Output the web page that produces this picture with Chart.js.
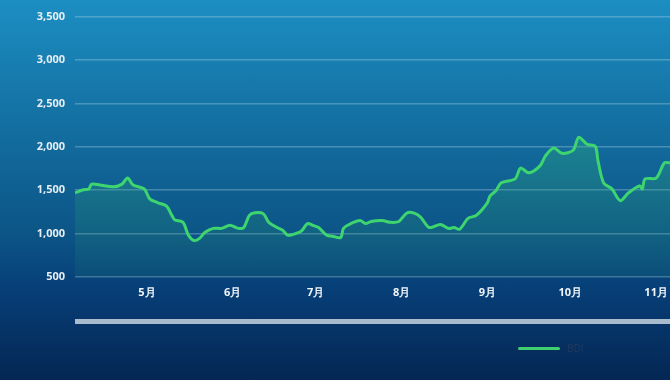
<!DOCTYPE html>
<html>
<head>
<meta charset="utf-8">
<script src="https://cdn.jsdelivr.net/npm/chart.js@4"></script>
<style>
  body { margin: 0; }
  #wrap {
    position: relative;
    width: 670px;
    height: 380px;
    background: linear-gradient(to bottom, #1c8ec2 0%, #136d9f 35%, #0c5486 62%, #07427a 74%, #06356a 85%, #042753 100%);
    overflow: hidden;
  }
  #legend {
    position: absolute;
    left: 518px;
    top: 341px;
    font: 10px "Open Sans", sans-serif;
    color: #22395e;
    display: flex;
    align-items: center;
  }
  #legend span.line {
    display: inline-block;
    width: 42px;
    height: 3px;
    background: #3ecf6e;
    margin-right: 7px;
    border-radius: 2px;
  }
</style>
</head>
<body>
<div id="wrap">
  <canvas id="chart" width="670" height="380"></canvas>
  <div id="legend"><span class="line"></span>BDI</div>
</div>
<script>
// BDI readings (date, value)
const dates = ['4/5','4/8','4/10','4/11','4/14','4/19','4/22','4/24','4/26','4/30',
  '5/2','5/5','5/8','5/10','5/11','5/14','5/16','5/18','5/20','5/22','5/25','5/28','5/31',
  '6/3','6/5','6/7','6/9','6/12','6/14','6/17','6/19','6/21','6/25','6/26','6/28','6/30',
  '7/2','7/5','7/7','7/10','7/11','7/13','7/17','7/19','7/21','7/25','7/28','7/31',
  '8/3','8/6','8/8','8/11','8/15','8/18','8/20','8/22','8/25','8/28',
  '9/1','9/2','9/4','9/6','9/11','9/13','9/16','9/20','9/22','9/25','9/28',
  '10/2','10/4','10/7','10/10','10/11','10/13','10/16','10/19','10/22','10/26','10/27','10/28',
  '11/1','11/4','11/6'];
const bdi = [1470,1505,1515,1570,1560,1540,1570,1640,1560,1515,
  1400,1355,1320,1210,1160,1130,980,920,945,1015,1060,1060,1095,
  1060,1070,1210,1240,1230,1130,1070,1040,980,1015,1035,1115,1095,
  1070,980,970,955,1060,1105,1150,1115,1140,1150,1130,1140,
  1240,1230,1185,1070,1105,1060,1070,1050,1175,1210,
  1355,1435,1490,1585,1630,1755,1700,1780,1895,1985,1925,
  1960,2110,2030,2005,1835,1585,1515,1380,1470,1550,1515,1630,
  1640,1815,1815];

const monthLabels = ['5月','6月','7月','8月','9月','10月','11月'];
const monthStarts = ['5/1','6/1','7/1','8/1','9/1','10/1','11/1'];
const yTicks = [500,1000,1500,2000,2500,3000,3500];

const monthOffset = [0,31,59,90,120,151,181,212,243,273,304,334];
function dayOfYear(s) {
  const p = s.split('/');
  return monthOffset[+p[0] - 1] + (+p[1]);
}

const points = dates.map((d, i) => ({ x: dayOfYear(d), y: bdi[i] }));
const monthDays = monthStarts.map(dayOfYear);

const ctx = document.getElementById('chart').getContext('2d');

const fillGrad = ctx.createLinearGradient(0, 130, 0, 277);
fillGrad.addColorStop(0, 'rgba(52,190,120,0.32)');
fillGrad.addColorStop(1, 'rgba(40,150,110,0.12)');

// the grey bar under the month labels
const barPlugin = {
  id: 'bottomBar',
  afterDraw(chart) {
    const c = chart.ctx;
    const a = chart.chartArea;
    c.save();
    c.fillStyle = '#a9bccd';
    c.fillRect(a.left, 319, a.right - a.left, 5);
    c.restore();
  }
};

new Chart(ctx, {
  type: 'line',
  data: {
    datasets: [{
      label: 'BDI',
      data: points,
      borderColor: '#3ed56f',
      borderWidth: 3,
      backgroundColor: fillGrad,
      fill: 'origin',
      pointRadius: 0,
      tension: 0.3
    }]
  },
  options: {
    responsive: false,
    animation: false,
    layout: { padding: { top: 14, right: 0, left: 0, bottom: 0 } },
    plugins: {
      legend: { display: false },
      tooltip: { enabled: false }
    },
    scales: {
      x: {
        type: 'linear',
        min: 95,
        max: 310,
        afterBuildTicks(scale) {
          scale.ticks = monthDays.map(v => ({ value: v }));
        },
        afterFit(scale) {
          scale.height = 103;
          scale.paddingRight = 0;
          scale.paddingLeft = 0;
        },
        grid: { display: false, drawTicks: false },
        border: { display: false },
        ticks: {
          autoSkip: false,
          maxRotation: 0,
          padding: 9,
          color: '#f2f6fa',
          font: { family: 'Open Sans', size: 11, weight: 'bold' },
          callback: (v) => {
            const i = monthDays.indexOf(v);
            return i >= 0 ? monthLabels[i] : '';
          }
        }
      },
      y: {
        min: 500,
        max: 3500,
        afterBuildTicks(scale) {
          scale.ticks = yTicks.map(v => ({ value: v }));
        },
        afterFit(scale) { scale.width = 75; },
        grid: {
          color: 'rgba(200,225,240,0.3)',
          lineWidth: 1.5,
          drawTicks: false
        },
        border: { display: false },
        ticks: {
          padding: 10,
          color: '#e6eef5',
          font: { family: 'Open Sans', size: 11, weight: 'bold' },
          callback: (v) => v.toLocaleString('en-US')
        }
      }
    }
  },
  plugins: [barPlugin]
});
</script>
</body>
</html>
